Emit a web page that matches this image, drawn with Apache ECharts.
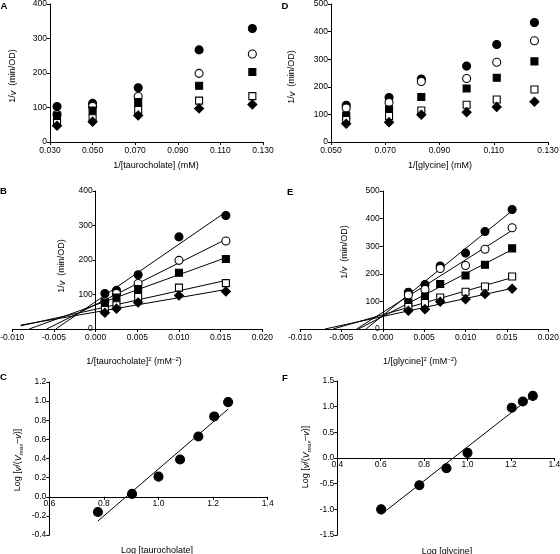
<!DOCTYPE html>
<html>
<head>
<meta charset="utf-8">
<script src="https://cdn.jsdelivr.net/npm/echarts@6/dist/echarts.min.js"></script>
<style>
html,body{margin:0;padding:0;background:#fff;}
#c{width:560px;height:554px;}
</style>
</head>
<body>
<div id="c"></div>
<script>
// ---------- DATA ----------
// Taurocholate: 1/[S] (mM) and 1/[S]^2 (mM^-2)
var tauroInv   = [0.0333, 0.0500, 0.0714, 0.1000, 0.1250];
var tauroInvSq = [0.00111, 0.00250, 0.00510, 0.01000, 0.01563];
// 1/v (min/OD) for the five series (filled circle, open circle, filled square, open square, diamond)
var tauroS1 = [103, 112, 157, 267, 329];
var tauroS2 = [80, 103, 132, 199, 255];
var tauroS3 = [77, 91, 116, 163, 203];
var tauroS4 = [55, 69, 93, 120, 133];
var tauroS5 = [47, 59, 77, 97, 109];

// Glycine: 1/[S] (mM) and 1/[S]^2 (mM^-2)
var glyInv   = [0.0556, 0.0714, 0.0833, 0.1000, 0.1111, 0.1250];
var glyInvSq = [0.00309, 0.00510, 0.00694, 0.01000, 0.01235, 0.01563];
var glyS1 = [133, 161, 228, 275, 353, 433];
var glyS2 = [123, 143, 219, 230, 289, 367];
var glyS3 = [96, 118, 163, 194, 233, 292];
var glyS4 = [80, 94, 114, 135, 154, 190];
var glyS5 = [66, 72, 99, 108, 127, 146];

// Hill plots
var logTauro  = [0.778, 0.903, 1.000, 1.079, 1.146, 1.204, 1.255];
var hillTauro = [-0.16, 0.03, 0.21, 0.39, 0.63, 0.84, 0.99];
var logGly    = [0.602, 0.778, 0.903, 1.000, 1.204, 1.255, 1.301];
var hillGly   = [-1.00, -0.53, -0.20, 0.10, 0.98, 1.10, 1.21];

// ---------- HELPERS ----------
var FONT = '"Liberation Sans", Arial, sans-serif';
function pairs(xs, ys){ return xs.map(function(x,i){ return [x, ys[i]]; }); }
function fit(xs, ys){
  var n = xs.length, mx = 0, my = 0;
  for (var i=0;i<n;i++){ mx += xs[i]; my += ys[i]; }
  mx/=n; my/=n;
  var sxy=0, sxx=0;
  for (var i=0;i<n;i++){ sxy += (xs[i]-mx)*(ys[i]-my); sxx += (xs[i]-mx)*(xs[i]-mx); }
  var b = sxy/sxx, a = my - b*mx;
  return {a:a, b:b};
}
// regression line extended back to the x-axis (y=0) or to xFloor, whichever is reached first
function lbLine(xs, ys, xFloor){
  var f = fit(xs, ys);
  var x0 = Math.max(-f.a/f.b, xFloor);
  var x1 = xs[xs.length-1];
  return [[x0, f.a + f.b*x0], [x1, f.a + f.b*x1]];
}
function spanLine(xs, ys){
  var f = fit(xs, ys);
  var x0 = xs[0], x1 = xs[xs.length-1];
  return [[x0, f.a + f.b*x0], [x1, f.a + f.b*x1]];
}

function valAxis(gi, min, max, interval, dec){
  return {
    type:'value', gridIndex:gi, min:min, max:max, interval:interval,
    splitLine:{show:false},
    axisLine:{show:true, onZero:false, lineStyle:{color:'#000', width:1}},
    axisTick:{show:true, length:3, lineStyle:{color:'#000', width:1}},
    axisLabel:{color:'#000', fontSize:8.5, fontFamily:FONT, margin:3,
      formatter:function(v){ return (Math.abs(v) < 1e-9 ? 0 : v).toFixed(dec); }}
  };
}

var markers = [
  {symbol:'circle', size:8, color:'#000', border:'#000'},
  {symbol:'circle', size:8, color:'#fff', border:'#000'},
  {symbol:'rect', size:7, color:'#000', border:'#000'},
  {symbol:'rect', size:7, color:'#fff', border:'#000'},
  {symbol:'diamond', size:9, color:'#000', border:'#000'}
];
function scatter(axIdx, xs, ys, m){
  return {
    type:'scatter', xAxisIndex:axIdx, yAxisIndex:axIdx, symbol:m.symbol, symbolSize:m.size,
    itemStyle:{color:m.color, borderColor:m.border, borderWidth:1.1, opacity:1},
    data:pairs(xs, ys), z:5, animation:false, silent:true
  };
}
function line(axIdx, pts){
  return {
    type:'line', xAxisIndex:axIdx, yAxisIndex:axIdx, symbol:'none', data:pts,
    lineStyle:{color:'#000', width:1}, z:3, animation:false, silent:true
  };
}

var tauroY = [tauroS1, tauroS2, tauroS3, tauroS4, tauroS5];
var glyY   = [glyS1, glyS2, glyS3, glyS4, glyS5];

var series = [];
// A (0)
tauroY.forEach(function(ys,i){ series.push(scatter(0, tauroInv, ys, markers[i])); });
// D (1)
glyY.forEach(function(ys,i){ series.push(scatter(1, glyInv, ys, markers[i])); });
// B (2)
tauroY.forEach(function(ys,i){
  series.push(line(2, lbLine(tauroInvSq, ys, -0.009)));
  series.push(scatter(2, tauroInvSq, ys, markers[i]));
});
// E (3)
glyY.forEach(function(ys,i){
  series.push(line(3, lbLine(glyInvSq, ys, -0.010)));
  series.push(scatter(3, glyInvSq, ys, markers[i]));
});
// C (4)
series.push(line(4, spanLine(logTauro, hillTauro)));
series.push(scatter(4, logTauro, hillTauro, {symbol:'circle', size:9, color:'#000', border:'#000'}));
// F (5)
series.push(line(5, spanLine(logGly, hillGly)));
series.push(scatter(5, logGly, hillGly, {symbol:'circle', size:9, color:'#000', border:'#000'}));

var grids = [
  {left:50, top:4, width:213, height:138},
  {left:331, top:4, width:217, height:138},
  {left:12.3, top:191, width:250, height:138},
  {left:300, top:191, width:248.3, height:138},
  {left:49.3, top:382, width:218.4, height:153},
  {left:337.3, top:381, width:217, height:154}
].map(function(g){ g.containLabel = false; g.outerBoundsMode = 'none'; return g; });

var xAxes = [
  valAxis(0, 0.030, 0.130, 0.020, 3),
  valAxis(1, 0.050, 0.130, 0.020, 3),
  valAxis(2, -0.010, 0.020, 0.005, 3),
  valAxis(3, -0.010, 0.020, 0.005, 3),
  valAxis(4, 0.6, 1.4, 0.2, 1),
  valAxis(5, 0.4, 1.4, 0.2, 1)
];
var yAxes = [
  valAxis(0, 0, 400, 100, 0),
  valAxis(1, 0, 500, 100, 0),
  valAxis(2, 0, 400, 100, 0),
  valAxis(3, 0, 500, 100, 0),
  valAxis(4, -0.4, 1.2, 0.2, 1),
  valAxis(5, -1.5, 1.5, 0.5, 1)
];
xAxes.forEach(function(a){ a.axisLabel.margin = 4; });
// axes that cross at zero: shift them from the grid edge to the zero position
function zeroOffset(min, max, pixels){ return -pixels * (0 - min) / (max - min); }
yAxes[2].offset = zeroOffset(-0.010, 0.020, 250);     // B: y-axis at x = 0
yAxes[3].offset = zeroOffset(-0.010, 0.020, 248.3);   // E: y-axis at x = 0
xAxes[4].offset = zeroOffset(-0.4, 1.2, 153);         // C: x-axis at y = 0
xAxes[5].offset = zeroOffset(-1.5, 1.5, 154);         // F: x-axis at y = 0
xAxes[4].axisLabel.margin = 2;
xAxes[5].axisLabel.margin = 2;

// ---------- TEXT ----------
var baseRich = {
  n:{fontSize:9, fontFamily:FONT, fill:'#000', lineHeight:12},
  i:{fontSize:9, fontFamily:FONT, fontStyle:'italic', fill:'#000', lineHeight:12},
  sup:{fontSize:6, fontFamily:FONT, fill:'#000', verticalAlign:'top', lineHeight:12},
  sub:{fontSize:6, fontFamily:FONT, fontStyle:'italic', fill:'#000', verticalAlign:'bottom', lineHeight:12}
};
function txt(x, y, text, rot){
  return {type:'text', x:x, y:y, rotation:rot ? Math.PI/2 : 0, silent:true,
    style:{text:text, rich:baseRich, align:'center', verticalAlign:'middle', fill:'#000',
      fontSize:9, fontFamily:FONT}};
}
function letter(x, y, t){
  return {type:'text', x:x, y:y, silent:true,
    style:{text:t, fontSize:9.5, fontWeight:'bold', fontFamily:FONT, fill:'#000', align:'left', verticalAlign:'top'}};
}
var yTitle = '{n|1/}{i|v}{n|  (min/OD)}';
var hillTitle = '{n|Log [}{i|v}{n|/(}{i|V}{sub|max}{n|\u2013}{i|v}{n|)]}';
var graphics = [
  letter(0.5, 1.5, 'A'), letter(281.5, 1.5, 'D'), letter(0, 186, 'B'), letter(287, 187, 'E'),
  letter(0, 372, 'C'), letter(282, 373, 'F'),
  txt(13, 76, yTitle, true),
  txt(156, 166, '{n|1/[taurocholate] (mM)}'),
  txt(292, 77, yTitle, true),
  txt(440, 166, '{n|1/[glycine] (mM)}'),
  txt(62, 266, yTitle, true),
  txt(134, 362, '{n|1/[taurocholate]}{sup|2}{n| (mM}{sup|\u20132}{n|)}'),
  txt(344.5, 252, yTitle, true),
  txt(420, 362, '{n|1/[glycine]}{sup|2}{n| (mM}{sup|\u20132}{n|)}'),
  txt(18, 460, hillTitle, true),
  txt(157, 551, '{n|Log [taurocholate]}'),
  txt(306, 457, hillTitle, true),
  txt(447, 552, '{n|Log [glycine]}')
];

var chart = echarts.init(document.getElementById('c'), null, {renderer:'canvas'});
chart.setOption({
  animation:false,
  backgroundColor:'#fff',
  grid:grids,
  xAxis:xAxes,
  yAxis:yAxes,
  series:series,
  graphic:graphics
});
</script>
</body>
</html>
